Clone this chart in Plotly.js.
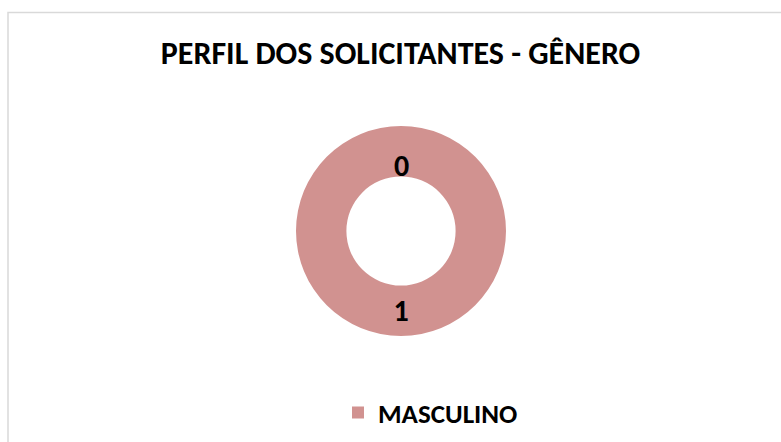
<!DOCTYPE html>
<html>
<head>
<meta charset="utf-8">
<script src="https://cdn.plot.ly/plotly-3.0.1.min.js"></script>
<style>html,body{margin:0;padding:0;background:#fff;}#chart{width:781px;height:442px;}</style>
</head>
<body>
<div id="chart"></div>
<script>
// Data
var categories = ["FEMININO", "MASCULINO"];
var counts = [0, 1];
var categoryColors = ["#D19290", "#D19290"];
var chartTitle = "PERFIL DOS SOLICITANTES - GÊNERO";

var FONT = "Carlito, Lato, sans-serif";

// slices with a positive count are drawn by the pie; zero counts get a label only
var drawnLabels = [], drawnValues = [], drawnColors = [];
categories.forEach(function (c, i) {
  if (counts[i] > 0) { drawnLabels.push(c); drawnValues.push(counts[i]); drawnColors.push(categoryColors[i]); }
});

var dom = {x: [296/781, 506/781], y: [1 - 336/442, 1 - 126/442]};
var cx = (dom.x[0] + dom.x[1]) / 2, cy = (dom.y[0] + dom.y[1]) / 2;
var total = counts.reduce(function (a, b) { return a + b; }, 0);

var annotations = [];
var cum = 0;
categories.forEach(function (c, i) {
  var mid = (cum + counts[i] / 2) / total; // fraction of the circle, clockwise from 12 o'clock
  cum += counts[i];
  if (counts[i] === 0) {
    var ang = 2 * Math.PI * mid;
    var rpx = 66; // label radius in px
    annotations.push({
      xref: "paper", yref: "paper",
      x: cx + rpx * Math.sin(ang) / 781, y: cy + rpx * Math.cos(ang) / 442,
      xanchor: "center", yanchor: "middle", showarrow: false,
      text: "<b>" + counts[i] + "</b>",
      font: {family: FONT, size: 30, color: "#000000"}
    });
  }
});

var trace = {
  type: "pie",
  labels: drawnLabels,
  values: drawnValues,
  sort: false,
  direction: "clockwise",
  rotation: 0,
  hole: 0.52,
  marker: {colors: drawnColors, line: {width: 0}},
  textinfo: "value",
  textposition: "inside",
  insidetextorientation: "horizontal",
  textfont: {family: FONT, size: 30, color: "#000000", weight: 700},
  domain: dom,
  hoverinfo: "label+value",
  showlegend: true
};

var layout = {
  width: 781, height: 442,
  margin: {l: 0, r: 0, t: 0, b: 0},
  paper_bgcolor: "#ffffff",
  title: {
    text: "<b>" + chartTitle + "</b>",
    font: {family: FONT, size: 32, color: "#000000"},
    x: 400.5/781, xanchor: "center", y: 1 - 53/442, yanchor: "middle"
  },
  showlegend: true,
  legend: {
    orientation: "h",
    x: 338/781, xanchor: "left",
    y: 1 - 413/442, yanchor: "middle",
    font: {family: FONT, size: 27, color: "#000000", weight: 700},
    bgcolor: "rgba(0,0,0,0)"
  },
  annotations: annotations,
  shapes: [{
    type: "rect", xref: "paper", yref: "paper",
    x0: 8/781, x1: 1.02, y0: -0.02, y1: 1 - 12.5/442,
    line: {color: "#d9d9d9", width: 1.5}, fillcolor: "rgba(0,0,0,0)"
  }]
};

Plotly.newPlot("chart", [trace], layout, {displayModeBar: false, staticPlot: true});
</script>
</body>
</html>
